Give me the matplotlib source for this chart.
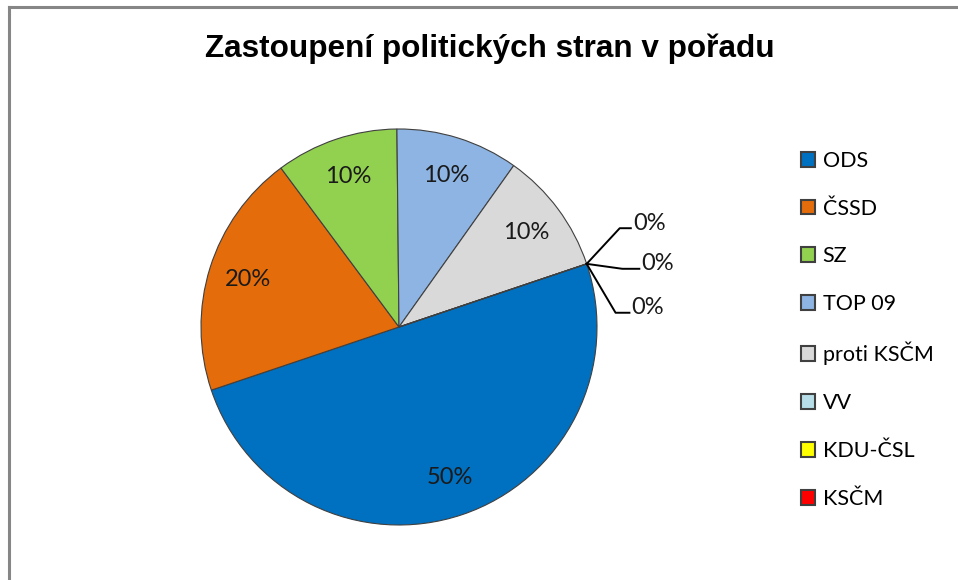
import matplotlib
matplotlib.use("Agg")
import matplotlib.pyplot as plt
import numpy as np
from matplotlib.lines import Line2D

# data
parties = ["ODS", "ČSSD", "SZ", "TOP 09", "proti KSČM", "VV", "KDU-ČSL", "KSČM"]
shares = [50, 20, 10, 10, 10, 0, 0, 0]
colors = ["#0070C0", "#E46C0A", "#92D050", "#8DB4E2", "#D9D9D9", "#B7DEE8", "#FFFF00", "#FF0000"]

# leader lines for the zero slices: elbow offset from the wedge point and
# length of the horizontal tail (axis units)
zero_leaders = [(0.167, 0.18, 0.056), (0.18, -0.025, 0.086), (0.146, -0.247, 0.07)]

W, H = 958, 580
fig = plt.figure(figsize=(W / 100, H / 100), dpi=100)

# chart border (gray frame, only top and left visible)
fig.add_artist(Line2D([9 / W, 1], [1 - 7 / H, 1 - 7 / H], color="#868686", lw=2.2))
fig.add_artist(Line2D([9 / W, 9 / W], [0, 1 - 7 / H], color="#868686", lw=2.2))

fig.text(490 / W, 1 - 49 / H, "Zastoupení politických stran v pořadu",
         ha="center", va="center", fontsize=22.7, fontweight="bold",
         family="Liberation Sans")

R = 198
ax = fig.add_axes([(399 - R) / W, (H - 327 - R) / H, 2 * R / W, 2 * R / H])
wedges, _ = ax.pie(shares, colors=colors, startangle=18.6, counterclock=False,
                   radius=1, wedgeprops=dict(edgecolor="#404040", linewidth=0.8))
ax.set_xlim(-1, 1)
ax.set_ylim(-1, 1)
ax.axis("off")

lab_font = dict(family="Lato", fontsize=17, color="#1a1a1a")
zi = 0
for w, v in zip(wedges, shares):
    if v > 0:
        mid = np.deg2rad((w.theta1 + w.theta2) / 2)
        ax.text(0.8 * np.cos(mid), 0.8 * np.sin(mid), f"{v}%",
                ha="center", va="center", **lab_font)
    else:
        a = np.deg2rad(w.theta1)
        px, py = np.cos(a), np.sin(a)
        dx, dy, hl = zero_leaders[zi]
        zi += 1
        ex, ey = px + dx, py + dy
        ax.plot([px, ex, ex + hl], [py, ey, ey], color="black", lw=1.4,
                clip_on=False)
        ax.text(ex + hl + 0.01, ey - 0.028, f"{v}%", ha="left", va="bottom",
                clip_on=False, **lab_font)

leg = fig.legend(wedges, parties, loc="upper left",
                 bbox_to_anchor=(790 / W, 1 - 140 / H),
                 frameon=False, prop=dict(family="Lato", size=15.5),
                 handlelength=0.68, handleheight=0.68, handletextpad=0.33,
                 labelspacing=1.29, borderpad=0)
for h in leg.legend_handles:
    h.set_edgecolor("#404040")
    h.set_linewidth(1.5)

fig.savefig("out.png", dpi=100)
